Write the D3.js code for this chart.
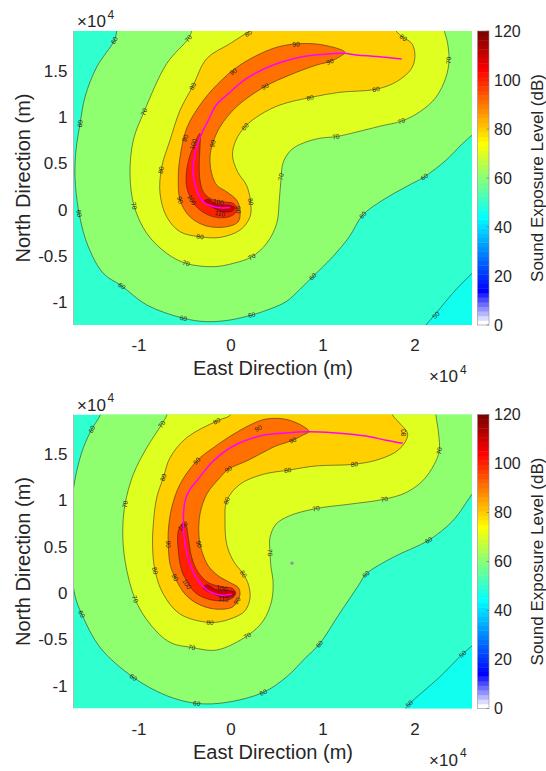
<!DOCTYPE html>
<html><head><meta charset="utf-8">
<script src="https://cdn.jsdelivr.net/npm/d3@7"></script>
<style>
body{margin:0;background:#fff}
text{font-family:"Liberation Sans",Arial,Helvetica,sans-serif;fill:#262626}
</style>
</head><body>
<svg id="c" width="546" height="771"></svg>
<script>
// ---------------- DATA (positions in units of 1e4 m) ----------------
const xDomain = [-1.707, 2.62];
const yDomain = [-1.245, 1.927];
const xTicks = [-1, 0, 1, 2];
const yTicks = [-1, -0.5, 0, 0.5, 1, 1.5];
const cbTicks = [0, 20, 40, 60, 80, 100, 120];
const cbRange = [0, 120];
const levels = [50, 60, 70, 80, 90, 100, 110];

// ---- top panel ----
const topTrack = [[-0.011,0.022],[-0.155,0.024],[-0.301,0.084],[-0.373,0.210],[-0.410,0.390],[-0.391,0.606],[-0.318,0.821],[-0.247,0.964],[-0.163,1.126],[-0.065,1.220],[0.171,1.417],[0.460,1.560],[0.786,1.651],[1.040,1.679],[1.221,1.686],[1.366,1.668],[1.584,1.651],[1.855,1.625]];
const top110 = [[-0.293,0.092],[-0.207,0.027],[-0.098,-0.022],[0.011,-0.016],[0.043,0.022],[-0.022,0.048],[-0.152,0.054],[-0.250,0.113]];
const top100 = [[-0.337,0.821],[-0.427,0.641],[-0.482,0.426],[-0.482,0.246],[-0.427,0.102],[-0.337,-0.005],[-0.192,-0.078],[-0.047,-0.084],[0.043,-0.041],[0.065,0.016],[0.025,0.067],[-0.084,0.084],[-0.228,0.121],[-0.301,0.192],[-0.337,0.318],[-0.345,0.498],[-0.337,0.677]];
const top90 = [[1.239,1.697],[1.003,1.776],[0.714,1.789],[0.460,1.740],[0.098,1.560],[-0.155,1.345],[-0.337,1.129],[-0.482,0.878],[-0.554,0.569],[-0.573,0.353],[-0.554,0.102],[-0.446,-0.078],[-0.264,-0.178],[-0.047,-0.185],[0.079,-0.131],[0.098,-0.005],[0.062,0.102],[-0.047,0.192],[-0.155,0.264],[-0.210,0.390],[-0.228,0.569],[-0.199,0.713],[-0.120,0.892],[0.062,1.112],[0.370,1.328],[0.641,1.453],[0.932,1.560],[1.076,1.597],[1.185,1.651]];
const top80 = [[0.250,1.956],[-0.011,1.791],[-0.264,1.629],[-0.416,1.331],[-0.554,1.072],[-0.663,0.749],[-0.753,0.461],[-0.772,0.175],[-0.699,-0.078],[-0.554,-0.239],[-0.337,-0.293],[-0.120,-0.300],[0.098,-0.221],[0.207,-0.078],[0.212,0.092],[0.168,0.264],[0.071,0.409],[0.016,0.587],[0.054,0.749],[0.152,0.894],[0.315,1.022],[0.533,1.129],[0.859,1.209],[1.185,1.266],[1.576,1.298],[1.801,1.381],[1.964,1.525],[2.000,1.668],[1.964,1.794],[1.873,1.856],[1.801,1.920],[1.772,1.977]];
const top70 = [[-0.424,1.977],[-0.427,1.927],[-0.464,1.845],[-0.699,1.575],[-0.946,1.054],[-1.062,0.749],[-1.098,0.390],[-1.054,0.041],[-0.916,-0.256],[-0.699,-0.472],[-0.489,-0.580],[-0.192,-0.616],[0.025,-0.580],[0.225,-0.509],[0.388,-0.364],[0.497,-0.149],[0.525,0.102],[0.543,0.318],[0.568,0.512],[0.663,0.652],[0.826,0.733],[0.989,0.773],[1.141,0.787],[1.402,0.846],[1.641,0.905],[1.853,0.954],[2.054,1.056],[2.228,1.212],[2.337,1.428],[2.370,1.611],[2.353,1.805],[2.321,1.924],[2.315,1.977]];
const top60 = [[-1.234,1.977],[-1.242,1.927],[-1.268,1.826],[-1.460,1.539],[-1.587,1.216],[-1.641,0.929],[-1.685,0.641],[-1.696,0.353],[-1.652,-0.041],[-1.551,-0.401],[-1.388,-0.688],[-1.188,-0.824],[-0.916,-1.029],[-0.518,-1.172],[-0.264,-1.209],[-0.011,-1.191],[0.225,-1.137],[0.380,-1.088],[0.598,-0.994],[0.742,-0.867],[0.888,-0.724],[1.105,-0.509],[1.286,-0.293],[1.432,-0.059],[1.649,0.102],[1.902,0.246],[2.101,0.353],[2.337,0.533],[2.518,0.713],[2.620,0.803],[2.707,0.878]];
const top50 = [[2.728,-0.595],[2.620,-0.688],[2.410,-0.903],[2.228,-1.119],[2.120,-1.245],[2.033,-1.352]];
const topLabels = [
 [60,-1.268,1.826],[60,-1.641,0.929],[60,-1.652,-0.041],[60,-1.188,-0.824],[60,-0.518,-1.172],[60,0.225,-1.137],[60,0.888,-0.724],[60,1.432,-0.059],[60,2.101,0.353],
 [70,-0.464,1.845],[70,-0.946,1.054],[70,-1.054,0.041],[70,-0.489,-0.580],[70,0.225,-0.509],[70,0.543,0.353],[70,1.141,0.787],[70,1.853,0.954],[70,2.366,1.611],
 [80,0.188,1.902],[80,-0.416,1.331],[80,-0.761,0.426],[80,-0.337,-0.293],[80,0.214,0.084],[80,0.152,0.894],[80,0.859,1.207],[80,1.576,1.298],[80,1.873,1.856],
 [90,0.707,1.783],[90,0.025,1.489],[90,-0.500,0.770],[90,-0.554,0.102],[90,0.079,-0.002],[90,-0.199,0.713],[90,0.370,1.328],[90,1.076,1.597],
 [100,-0.410,0.706],[100,-0.427,0.102],[100,-0.138,0.084],
 [110,-0.120,-0.041],
 [50,2.228,-1.137]];

// ---- bottom panel ----
const botTrack = [[0.008,-0.011],[-0.101,-0.022],[-0.247,0.025],[-0.355,0.133],[-0.446,0.313],[-0.500,0.528],[-0.518,0.779],[-0.500,0.994],[-0.457,1.102],[-0.373,1.210],[-0.192,1.425],[0.025,1.587],[0.315,1.695],[0.598,1.728],[0.834,1.741],[1.105,1.731],[1.467,1.695],[1.685,1.649],[1.866,1.616]];
const bot110 = [[-0.304,0.057],[-0.207,-0.002],[-0.076,-0.045],[0.022,-0.034],[0.043,0.009],[-0.033,0.030],[-0.163,0.036],[-0.261,0.089]];
const bot100 = [[-0.518,0.761],[-0.573,0.671],[-0.573,0.456],[-0.536,0.240],[-0.482,0.133],[-0.391,0.006],[-0.247,-0.065],[-0.084,-0.083],[0.025,-0.047],[0.051,0.006],[0.008,0.054],[-0.101,0.068],[-0.247,0.114],[-0.355,0.222],[-0.427,0.384],[-0.464,0.599],[-0.492,0.744]];
const bot90 = [[0.848,1.744],[0.779,1.803],[0.598,1.875],[0.380,1.878],[0.207,1.814],[0.025,1.713],[-0.192,1.569],[-0.373,1.426],[-0.554,1.175],[-0.645,0.922],[-0.682,0.671],[-0.682,0.528],[-0.663,0.313],[-0.609,0.168],[-0.500,-0.011],[-0.355,-0.119],[-0.174,-0.172],[0.008,-0.155],[0.065,-0.094],[0.098,-0.011],[0.079,0.060],[-0.011,0.114],[-0.138,0.186],[-0.247,0.294],[-0.318,0.456],[-0.348,0.617],[-0.337,0.851],[-0.264,1.067],[-0.120,1.246],[-0.029,1.336],[0.171,1.426],[0.380,1.534],[0.489,1.587],[0.671,1.649],[0.783,1.706]];
const bot80 = [[0.011,1.986],[-0.011,1.918],[-0.155,1.857],[-0.482,1.677],[-0.663,1.461],[-0.736,1.246],[-0.808,1.030],[-0.845,0.744],[-0.853,0.510],[-0.826,0.240],[-0.736,-0.011],[-0.554,-0.226],[-0.228,-0.317],[-0.011,-0.280],[0.152,-0.191],[0.207,-0.047],[0.188,0.097],[0.134,0.205],[0.025,0.348],[-0.047,0.528],[-0.065,0.779],[-0.047,0.995],[0.098,1.175],[0.351,1.282],[0.616,1.325],[0.924,1.372],[1.340,1.390],[1.612,1.444],[1.829,1.552],[1.921,1.713],[1.829,1.838],[1.758,1.918],[1.728,2.018]];
const bot70 = [[-0.690,1.986],[-0.699,1.918],[-0.753,1.821],[-0.916,1.569],[-1.062,1.282],[-1.152,0.959],[-1.177,0.671],[-1.152,0.348],[-1.043,-0.065],[-0.880,-0.334],[-0.663,-0.532],[-0.427,-0.586],[-0.155,-0.614],[0.177,-0.460],[0.351,-0.298],[0.442,-0.083],[0.457,0.133],[0.435,0.276],[0.424,0.437],[0.424,0.599],[0.489,0.744],[0.634,0.833],[0.924,0.912],[1.286,0.959],[1.666,1.013],[1.902,1.084],[2.084,1.212],[2.210,1.390],[2.264,1.534],[2.258,1.713],[2.228,1.918],[2.217,2.018]];
const bot60 = [[-1.413,1.986],[-1.424,1.918],[-1.514,1.767],[-1.605,1.569],[-1.685,1.282],[-1.739,0.887],[-1.739,0.348],[-1.696,-0.029],[-1.623,-0.226],[-1.424,-0.586],[-1.062,-0.909],[-0.699,-1.107],[-0.373,-1.190],[-0.047,-1.179],[0.351,-1.071],[0.598,-0.909],[0.815,-0.694],[0.960,-0.550],[1.177,-0.226],[1.395,0.097],[1.467,0.205],[1.758,0.384],[2.149,0.571],[2.410,0.779],[2.620,1.067],[2.707,1.178]];
const bot50 = [[2.707,-0.482],[2.620,-0.568],[2.518,-0.657],[2.264,-0.909],[1.938,-1.196],[1.884,-1.261],[1.815,-1.333]];
const botMarker = [[0.663,0.323]];
const botLabels = [
 [60,-1.514,1.767],[60,-1.623,-0.226],[60,-1.062,-0.909],[60,-0.373,-1.190],[60,0.351,-1.071],[60,0.960,-0.550],[60,1.467,0.205],[60,2.149,0.571],
 [70,-0.753,1.821],[70,-1.152,0.959],[70,-1.043,-0.065],[70,-0.427,-0.586],[70,0.177,-0.460],[70,0.424,0.437],[70,0.924,0.912],[70,1.666,1.013],[70,2.264,1.534],
 [80,-0.155,1.857],[80,-0.736,1.246],[80,-0.826,0.240],[80,-0.228,-0.317],[80,0.134,0.205],[80,-0.047,0.995],[80,0.616,1.325],[80,1.340,1.390],[80,1.875,1.731],
 [90,0.297,1.778],[90,-0.373,1.426],[90,-0.029,1.336],[90,0.671,1.649],[90,-0.682,0.528],[90,-0.348,0.528],[90,-0.609,0.168],[90,0.065,-0.083],
 [100,-0.525,0.725],[100,-0.482,0.097],[100,-0.101,0.054],
 [110,-0.084,-0.065],
 [50,2.518,-0.657],[50,1.938,-1.196]];

// ---------------- COLORMAP (MATLAB jet(64), low end blended to white) ----------------
function jetU(j){ if(j<0||j>46) return 0; if(j<16) return (j+1)/16; if(j<=30) return 1; return (47-j)/16; }
function cmapIdx(k){ // k 1..64
  if(k<=7){ const t=(k-1)/7; return d3.rgb(255*(1-t),255*(1-t),255); }
  return d3.rgb(255*jetU(k-25),255*jetU(k-9),255*jetU(k+7));
}
function levelColor(v){ const k=Math.max(1,Math.min(64,Math.floor((v-cbRange[0])/(cbRange[1]-cbRange[0])*64)+1)); return cmapIdx(k); }
const belowColor = cmapIdx(25);

// ---------------- LAYOUT ----------------
const svg = d3.select("#c");
const xL=74, xR=472, cbL=477.5, cbR=489;
const panels = [
 {top:31, bottom:325, c:{50:top50,60:top60,70:top70,80:top80,90:top90,100:top100,110:top110}, labels:topLabels, track:topTrack, marker:[]},
 {top:414.5, bottom:708.5, c:{50:bot50,60:bot60,70:bot70,80:bot80,90:bot90,100:bot100,110:bot110}, labels:botLabels, track:botTrack, marker:botMarker}
];
const closedLevels = new Set([90,100,110]);

panels.forEach((P,pi)=>{
  const x = d3.scaleLinear().domain(xDomain).range([xL,xR]);
  const y = d3.scaleLinear().domain(yDomain).range([P.bottom,P.top]);
  const g = svg.append("g");
  const cid = "clip"+pi;
  g.append("clipPath").attr("id",cid).append("rect")
    .attr("x",xL).attr("y",P.top).attr("width",xR-xL).attr("height",P.bottom-P.top);
  const pg = g.append("g").attr("clip-path",`url(#${cid})`);
  pg.append("rect").attr("x",xL).attr("y",P.top).attr("width",xR-xL).attr("height",P.bottom-P.top)
    .attr("fill",levelColor(50));
  const openLine = d3.line().x(d=>x(d[0])).y(d=>y(d[1])).curve(d3.curveCatmullRom.alpha(0.5));
  const closedLine = d3.line().x(d=>x(d[0])).y(d=>y(d[1])).curve(d3.curveCatmullRomClosed.alpha(0.5));
  // fills
  levels.forEach(L=>{
    const pts = P.c[L];
    let dPath, fill;
    if(closedLevels.has(L)){ dPath = closedLine(pts); fill = levelColor(L); }
    else {
      const first=pts[0], last=pts[pts.length-1];
      let closure;
      if(L===50){ closure=[[last[0],-1.8],[3.2,-1.8],[3.2,first[1]]]; fill=belowColor; }
      else { closure=[[last[0],2.5],[first[0],2.5]]; fill=levelColor(L); }
      dPath = openLine(pts) + closure.map(p=>`L${x(p[0])},${y(p[1])}`).join("") + "Z";
    }
    pg.append("path").attr("d",dPath).attr("fill",fill).attr("stroke","none");
  });
  // contour lines
  levels.forEach(L=>{
    const pts = P.c[L];
    pg.append("path").attr("d", closedLevels.has(L)?closedLine(pts):openLine(pts))
      .attr("fill","none").attr("stroke","#262626").attr("stroke-width",0.55);
  });
  // labels
  P.labels.forEach(([L,lx,ly])=>{
    const pts=P.c[L], n=pts.length, closed=closedLevels.has(L);
    const sx=x(lx), sy=y(ly);
    let best=0,bd=1e9;
    pts.forEach((p,i)=>{const dx=x(p[0])-sx,dy=y(p[1])-sy,d=dx*dx+dy*dy; if(d<bd){bd=d;best=i;}});
    const a = closed?pts[(best-1+n)%n]:pts[Math.max(best-1,0)];
    const b = closed?pts[(best+1)%n]:pts[Math.min(best+1,n-1)];
    let ang = Math.atan2(y(b[1])-y(a[1]), x(b[0])-x(a[0]))*180/Math.PI;
    if(ang>90) ang-=180; if(ang<-90) ang+=180;
    pg.append("text").attr("transform",`translate(${sx},${sy}) rotate(${ang})`)
      .attr("text-anchor","middle").attr("dy","0.35em")
      .attr("font-size",6.5).style("fill","#1e1e1e").text(L);
  });
  // track
  pg.append("path").attr("d",openLine(P.track)).attr("fill","none")
    .attr("stroke","#ff00ff").attr("stroke-width",1.5);
  P.marker.forEach(m=>{
    pg.append("circle").attr("cx",x(m[0])).attr("cy",y(m[1])).attr("r",1.6).attr("fill","#9c8a9e");
  });
  // left spine (light gray, as in reference)
  g.append("line").attr("x1",xL-0.5).attr("x2",xL-0.5).attr("y1",P.top).attr("y2",P.bottom)
    .attr("stroke","#b4b4b4").attr("stroke-width",1);

  // axes tick labels
  xTicks.forEach(t=>{
    g.append("text").attr("x",x(t)).attr("y",P.bottom+26).attr("text-anchor","middle")
      .attr("font-size",17).text(String(t));
  });
  yTicks.forEach(t=>{
    g.append("text").attr("x",67.5).attr("y",y(t)).attr("dy","0.35em").attr("text-anchor","end")
      .attr("font-size",17).text(String(t));
  });
  // exponent labels
  g.append("text").attr("x",77).attr("y",P.top-4).attr("font-size",17).text("\u00d710");
  g.append("text").attr("x",107.5).attr("y",P.top-12.5).attr("font-size",12).text("4");
  g.append("text").attr("x",429).attr("y",P.bottom+57).attr("font-size",17).text("\u00d710");
  g.append("text").attr("x",460).attr("y",P.bottom+48.5).attr("font-size",12).text("4");
  // axis titles
  g.append("text").attr("x",(xL+xR)/2).attr("y",P.bottom+50).attr("text-anchor","middle")
    .attr("font-size",20).text("East Direction (m)");
  g.append("text").attr("transform",`translate(30,${(P.top+P.bottom)/2}) rotate(-90)`)
    .attr("text-anchor","middle").attr("font-size",20).text("North Direction (m)");

  // colorbar
  const cy = d3.scaleLinear().domain(cbRange).range([P.bottom,P.top]);
  const step=(cbRange[1]-cbRange[0])/64;
  d3.range(1,65).forEach(k=>{
    g.append("rect").attr("x",cbL).attr("width",cbR-cbL)
      .attr("y",cy(cbRange[0]+k*step)).attr("height",cy(cbRange[0]+(k-1)*step)-cy(cbRange[0]+k*step)+0.4)
      .attr("fill",cmapIdx(k));
  });
  g.append("rect").attr("x",cbL).attr("y",P.top).attr("width",cbR-cbL).attr("height",P.bottom-P.top)
    .attr("fill","none").attr("stroke","#8c8c8c").attr("stroke-width",0.6);
  cbTicks.forEach(t=>{
    g.append("line").attr("x1",cbR-2.5).attr("x2",cbR).attr("y1",cy(t)).attr("y2",cy(t))
      .attr("stroke","#555").attr("stroke-width",0.5);
    g.append("text").attr("x",cbR+5).attr("y",cy(t)).attr("dy","0.35em").attr("font-size",16).text(String(t));
  });
  g.append("text").attr("transform",`translate(543,${(P.top+P.bottom)/2}) rotate(-90)`)
    .attr("text-anchor","middle").attr("font-size",17).text("Sound Exposure Level (dB)");
});
</script>
</body></html>
